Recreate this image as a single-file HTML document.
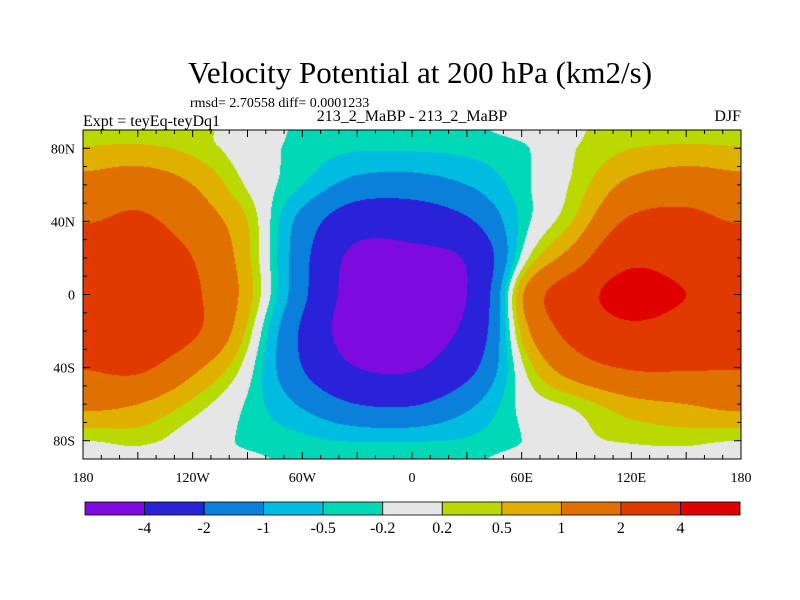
<!DOCTYPE html>
<html><head><meta charset="utf-8"><style>
body{margin:0;background:#fff;width:800px;height:600px;overflow:hidden;position:relative;font-family:"Liberation Serif",serif}
canvas{position:absolute;left:83px;top:130px}
svg{position:absolute;left:0;top:0}
</style></head><body>
<canvas id="map" width="658" height="329"></canvas>
<svg id="svg" width="800" height="600">
<text x="420" y="83" font-size="31" text-anchor="middle">Velocity Potential at 200 hPa (km2/s)</text>
<text x="190" y="107" font-size="14">rmsd= 2.70558 diff= 0.0001233</text>
<text x="83" y="126" font-size="16">Expt = teyEq-teyDq1</text>
<text x="412" y="121" font-size="16" text-anchor="middle">213_2_MaBP - 213_2_MaBP</text>
<text x="741" y="121" font-size="16" text-anchor="end">DJF</text>
<g id="axes"></g>
<g id="cbar"></g>
</svg>
<script>
const lons=[-180,-150,-120,-90,-60,-30,0,30,60,90,120,150,180];
const lats=[90,80,60,40,20,0,-20,-40,-60,-80,-90];
const row90=[0.4,0.4,0.3,0,-0.25,-0.3,-0.3,-0.25,-0.1,0.15,0.4,0.4,0.4];
const row80=[0.55,0.6,0.4,0,-0.3,-0.45,-0.45,-0.4,-0.25,0.2,0.5,0.6,0.55];
const row60=[1.3,1.5,1.0,0.15,-0.5,-1.3,-1.4,-1.0,-0.3,0.3,1.2,1.5,1.3];
const row40=[1.95,2.2,1.5,0.5,-1.3,-3,-3,-2.2,-0.4,0.6,2.2,2.3,1.95];
const row20=[3,2.8,2,0.6,-1.6,-4.6,-4.6,-3.8,-0.1,1.5,3.5,3,3];
const row0=[3,3,2.2,0.7,-1.7,-5,-5.5,-4,0.9,3,5,4,3];
const rowS20=[3,3,2.2,0.4,-2.2,-5.2,-5.2,-3.5,0.6,2.5,3.5,3,3];
const rowS40=[2.05,2.2,1.2,0,-2,-4,-4.2,-2.5,0.1,1.5,2.1,2.1,2.05];
const rowS60=[1.2,1.0,0.4,-0.25,-1.1,-2.0,-2.1,-1.2,-0.1,0.3,0.8,1,1.2];
const rowS80=[0.2,0.3,0,-0.25,-0.4,-0.55,-0.55,-0.45,-0.2,0.1,0.25,0.3,0.2];
const rowS90=[0.1,0.1,0,-0.15,-0.25,-0.3,-0.3,-0.25,-0.1,0,0.1,0.1,0.1];
const grid=[row90,row80,row60,row40,row20,row0,rowS20,rowS40,rowS60,rowS80,rowS90];
const levels=[-4,-2,-1,-0.5,-0.2,0.2,0.5,1,2,4];
const levelLabels=["-4","-2","-1","-0.5","-0.2","0.2","0.5","1","2","4"];
const colors=["#7d0be0","#2a22d8","#0b80da","#00bce0","#00d8b8","#e6e6e6","#bad900","#e0b000","#e07000","#e03a00","#e00000"];
const X0=83,X1=741,Y0=130,Y1=459;
const xs=lon=>X0+(lon+180)/360*(X1-X0);
const ys=lat=>Y0+(90-lat)/180*(Y1-Y0);
function cr(p0,p1,p2,p3,t){return 0.5*(2*p1+(-p0+p2)*t+(2*p0-5*p1+4*p2-p3)*t*t+(-p0+3*p1-3*p2+p3)*t*t*t);}
function lonInterp(row,lon){
  let f=(lon+180)/30;let i=Math.floor(f);if(i>=12)i=11;const t=f-i;
  const g=k=>{k=((k%12)+12)%12;return row[k];};
  return cr(g(i-1),row[i],row[i+1],g(i+2),t);
}
function latIndex(lat){for(let j=0;j<lats.length-1;j++){if(lat<=lats[j]&&lat>=lats[j+1])return j;}return lats.length-2;}
function field(lon,lat){
  const j=latIndex(lat);const t=(lats[j]-lat)/(lats[j]-lats[j+1]);
  const v=k=>lonInterp(grid[Math.max(0,Math.min(lats.length-1,k))],lon);
  return cr(v(j-1),v(j),v(j+1),v(j+2),t);
}
function colorOf(v){let k=0;while(k<levels.length&&v>=levels[k])k++;return colors[k];}
const cv=document.getElementById('map'),ctx=cv.getContext('2d');
const W=cv.width,H=cv.height;
for(let py=0;py<H;py++){for(let px=0;px<W;px++){
  const lon=-180+(px+0.5)/W*360,lat=90-(py+0.5)/H*180;
  ctx.fillStyle=colorOf(field(lon,lat));ctx.fillRect(px,py,1,1);
}}
const NS="http://www.w3.org/2000/svg";
function mk(tag,attrs,parent){const e=document.createElementNS(NS,tag);for(const k in attrs)e.setAttribute(k,attrs[k]);parent.appendChild(e);return e;}
const ax=document.getElementById('axes');
const frame=mk('rect',{x:X0,y:Y0,width:X1-X0,height:Y1-Y0,fill:'none',stroke:'#000','stroke-width':1},ax);


for(let lon=-180;lon<=180;lon+=10){const x=xs(lon),len=lon%30===0?7:4;
  const t1=mk('line',{x1:x,y1:Y1,x2:x,y2:Y1-len,stroke:'#000'},ax);
  
  
  mk('line',{x1:x,y1:Y0,x2:x,y2:Y0+len,stroke:'#000'},ax);}
for(let lat=-90;lat<=90;lat+=10){const y=ys(lat),len=lat%40===0?7:4;
  const t2=mk('line',{x1:X0,y1:y,x2:X0+len,y2:y,stroke:'#000'},ax);
  
  
  mk('line',{x1:X1,y1:y,x2:X1-len,y2:y,stroke:'#000'},ax);}
const xlabLons=[-180,-120,-60,0,60,120,180];
const xlabText=["180","120W","60W","0","60E","120E","180"];
xlabLons.forEach((lon,i)=>{const t=mk('text',{x:xs(lon),y:482,'font-size':14,'text-anchor':'middle'},ax);t.textContent=xlabText[i];
  
  });
const ylabLats=[80,40,0,-40,-80];
const ylabText=["80N","40N","0","40S","80S"];
ylabLats.forEach((lat,i)=>{const t=mk('text',{x:75,y:ys(lat)+5,'font-size':14,'text-anchor':'end'},ax);t.textContent=ylabText[i];
  
  });
const cb=document.getElementById('cbar');
const CX0=85,CX1=740,CY=502,CH=13,bw=(CX1-CX0)/colors.length;
colors.forEach((c,i)=>{const r=mk('rect',{x:CX0+i*bw,y:CY,width:bw,height:CH,fill:c,stroke:'#000','stroke-width':0.8},cb);
  
  });
levelLabels.forEach((s,i)=>{const t=mk('text',{x:CX0+(i+1)*bw,y:533,'font-size':16,'text-anchor':'middle'},cb);t.textContent=s;
  
  });
</script>
</body></html>
